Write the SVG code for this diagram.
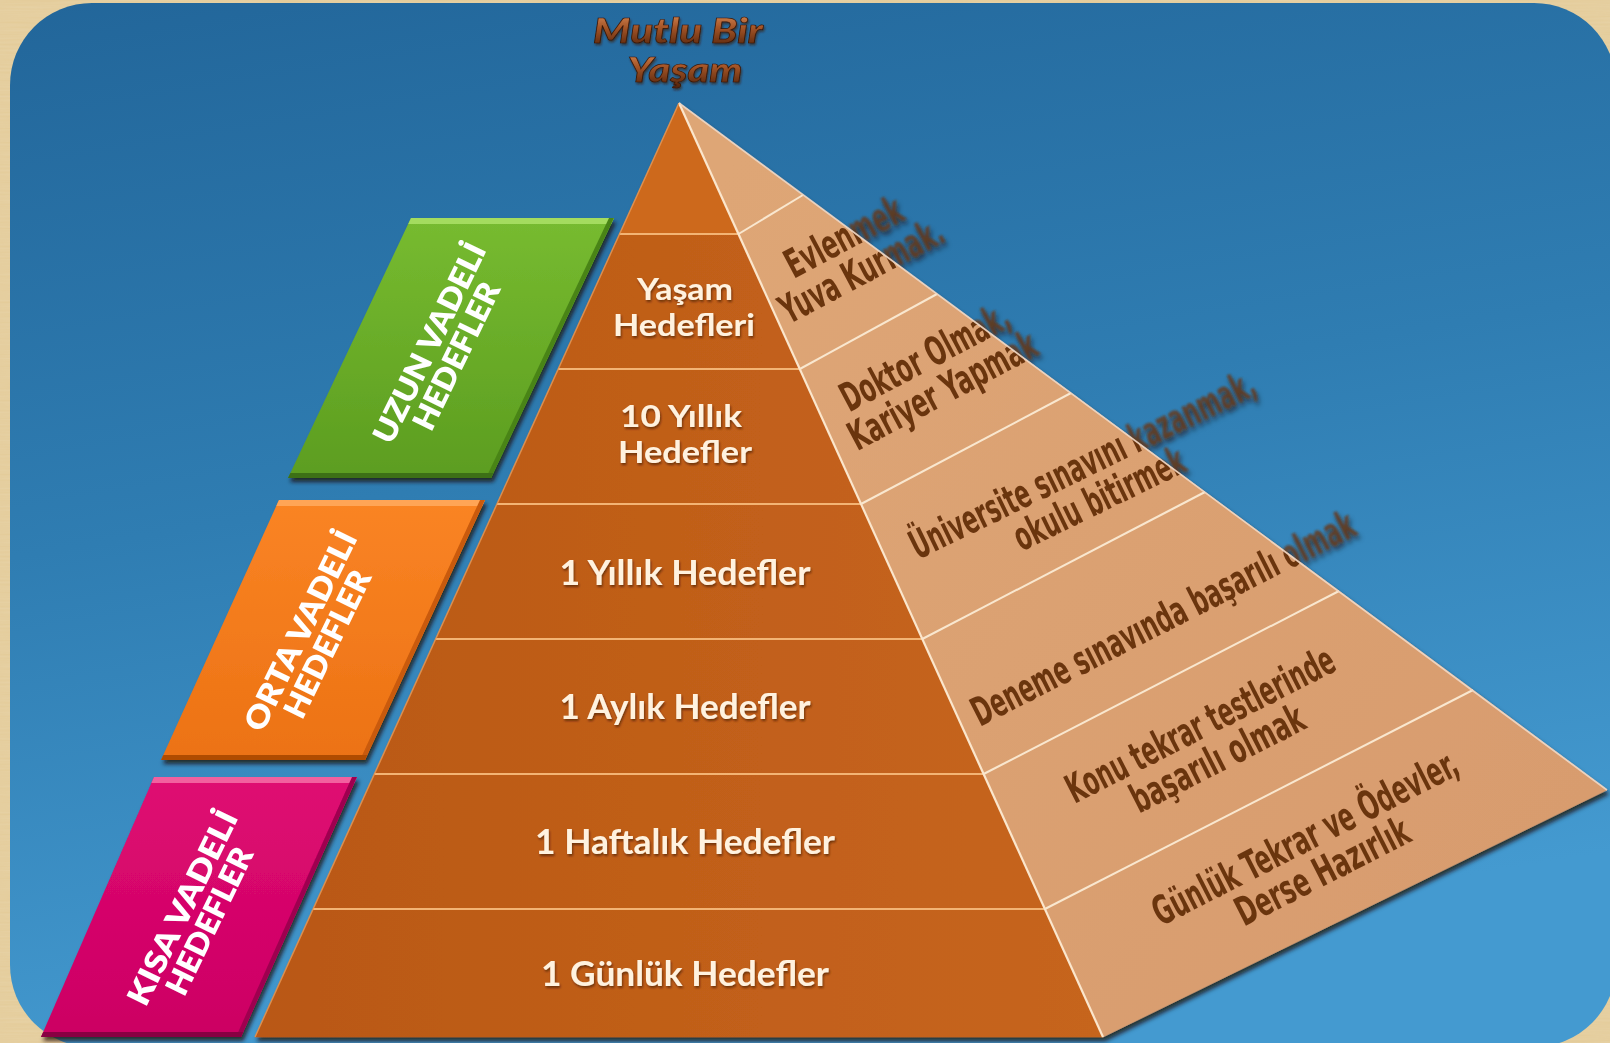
<svg xmlns="http://www.w3.org/2000/svg" xmlns:xlink="http://www.w3.org/1999/xlink" width="1610" height="1043" viewBox="0 0 1610 1043">
  <defs>
    <linearGradient id="sky" x1="0" y1="0" x2="0.25" y2="1">
      <stop offset="0" stop-color="#22669a"/>
      <stop offset="0.5" stop-color="#2f7db2"/>
      <stop offset="1" stop-color="#449ad0"/>
    </linearGradient>
    <linearGradient id="leftFace" gradientUnits="userSpaceOnUse" x1="255" y1="0" x2="1103" y2="0">
      <stop offset="0" stop-color="#b95814"/>
      <stop offset="0.6" stop-color="#c2601a"/>
      <stop offset="1" stop-color="#c6651c"/>
    </linearGradient>
    <linearGradient id="rightFace" gradientUnits="userSpaceOnUse" x1="700" y1="200" x2="1500" y2="900">
      <stop offset="0" stop-color="#dea676"/>
      <stop offset="1" stop-color="#d89c6e"/>
    </linearGradient>
    <linearGradient id="titleInk" x1="0" y1="0" x2="0" y2="1">
      <stop offset="0" stop-color="#e49a66"/>
      <stop offset="0.45" stop-color="#a65628"/>
      <stop offset="1" stop-color="#4e200a"/>
    </linearGradient>
    <linearGradient id="greenFill" x1="0" y1="0" x2="0" y2="1">
      <stop offset="0" stop-color="#77bb30"/>
      <stop offset="1" stop-color="#5c9d20"/>
    </linearGradient>
    <linearGradient id="orangeFill" x1="0" y1="0" x2="0" y2="1">
      <stop offset="0" stop-color="#fa8424"/>
      <stop offset="1" stop-color="#ec7214"/>
    </linearGradient>
    <linearGradient id="pinkFill" x1="0" y1="0" x2="0" y2="1">
      <stop offset="0" stop-color="#df0b72"/>
      <stop offset="1" stop-color="#cc0063"/>
    </linearGradient>

    <!-- parchment grain for the outer frame -->
    <filter id="grain" x="0" y="0" width="100%" height="100%">
      <feTurbulence type="fractalNoise" baseFrequency="0.015 0.5" numOctaves="2" seed="4" result="n"/>
      <feColorMatrix in="n" type="matrix" values="0 0 0 0 0.83  0 0 0 0 0.70  0 0 0 0 0.47  0 0 0 0.55 0"/>
      <feComposite in2="SourceGraphic" operator="in"/>
    </filter>
    <filter id="dropShadow" x="-10%" y="-10%" width="125%" height="125%">
      <feGaussianBlur in="SourceAlpha" stdDeviation="2.2"/>
      <feOffset dx="2" dy="4" result="b"/>
      <feFlood flood-color="#1c0c02" flood-opacity="0.75"/>
      <feComposite in2="b" operator="in"/>
      <feMerge><feMergeNode/><feMergeNode in="SourceGraphic"/></feMerge>
    </filter>
    <filter id="textShadow" x="-10%" y="-30%" width="120%" height="160%">
      <feGaussianBlur in="SourceAlpha" stdDeviation="0.9"/>
      <feOffset dx="1" dy="1.5" result="b"/>
      <feFlood flood-color="#3a1600" flood-opacity="0.6"/>
      <feComposite in2="b" operator="in"/>
      <feMerge><feMergeNode/><feMergeNode in="SourceGraphic"/></feMerge>
    </filter>
    <filter id="ghost" x="-20%" y="-50%" width="140%" height="200%">
      <feGaussianBlur stdDeviation="1.3"/>
    </filter>

    <clipPath id="rightFaceClip">
      <polygon points="679,103 1607,790 1103,1037"/>
    </clipPath>
    <clipPath id="outsideClip">
      <path clip-rule="evenodd" d="M0 0H1610V1043H0Z M679 103L1607 790L1103 1037Z"/>
    </clipPath>

    <style>
      .band { fill: url(#leftFace); stroke: url(#leftFace); stroke-width: 0.6; }
      .seg { fill: url(#rightFace); stroke: url(#rightFace); stroke-width: 0.6; }
      .ltext { font-family: Lato, "Open Sans", "DejaVu Sans", sans-serif; font-weight: 700; font-size: 34px;
               fill: #fff2df; text-anchor: middle; filter: url(#textShadow); }
      .ltext.two { font-size: 31px; }
      .rtext { font-family: "Liberation Sans Narrow", "DejaVu Sans Condensed", "Liberation Sans", sans-serif;
               font-weight: 700; font-size: 40px; fill: #6b3511; text-anchor: middle; }
      .btext { font-family: Lato, "Open Sans", "DejaVu Sans", sans-serif; font-weight: 800; font-size: 31px;
               fill: #ffffff; text-anchor: middle; }
      .title { font-family: Lato, "Open Sans", "DejaVu Sans", sans-serif; font-weight: 900; font-style: italic;
               font-size: 35px; fill: url(#titleInk); stroke: #3a1706; stroke-width: 0.7; text-anchor: middle;
               filter: url(#textShadow); }
      .hline { stroke: #f3b474; stroke-width: 2; }
      .rline { stroke: #f9e7cf; stroke-width: 2; }
    </style>
  </defs>

  <!-- frame and backdrop -->
  <rect x="0" y="0" width="1610" height="1043" fill="#e3ca96"/>
  <rect x="0" y="0" width="1610" height="1043" fill="#e3ca96" filter="url(#grain)"/>
  <rect x="10" y="3" width="1606" height="1044" rx="82" ry="82" fill="url(#sky)"/>

  <!-- title -->
  <g id="title">
    <text class="title" x="678" y="43" textLength="170" lengthAdjust="spacingAndGlyphs">Mutlu Bir</text>
    <text class="title" x="685" y="82" textLength="115" lengthAdjust="spacingAndGlyphs">Yaşam</text>
  </g>

  <!-- term banners -->
  <g id="banner-long" filter="url(#dropShadow)">
    <polygon points="411,218 614,218 491,478 288,478" fill="url(#greenFill)"/>
    <polygon points="411,218 614,218 611.2,224 408.2,224" fill="#a4dc5e"/>
    <polygon points="614,218 491,478 486,478 609,218" fill="#4a8418"/>
    <polygon points="290.4,473 493.4,473 491,478 288,478" fill="#3c7012"/>
    <g class="btext" transform="translate(442,349) rotate(-64)">
      <text x="0" y="-3" textLength="218" lengthAdjust="spacingAndGlyphs">UZUN VADELİ</text>
      <text x="0" y="27" textLength="160" lengthAdjust="spacingAndGlyphs">HEDEFLER</text>
    </g>
  </g>
  <g id="banner-mid" filter="url(#dropShadow)">
    <polygon points="279,500 485,500 365,760 161,760" fill="url(#orangeFill)"/>
    <polygon points="279,500 485,500 482.2,506 276.3,506" fill="#ffa556"/>
    <polygon points="485,500 365,760 360,760 480,500" fill="#c95a0a"/>
    <polygon points="163.3,755 367.3,755 365,760 161,760" fill="#b04c06"/>
    <g class="btext" transform="translate(313,637) rotate(-64)">
      <text x="0" y="-3" textLength="218" lengthAdjust="spacingAndGlyphs">ORTA VADELİ</text>
      <text x="0" y="27" textLength="160" lengthAdjust="spacingAndGlyphs">HEDEFLER</text>
    </g>
  </g>
  <g id="banner-short" filter="url(#dropShadow)">
    <polygon points="154,777 357,777 241,1037 41,1037" fill="url(#pinkFill)"/>
    <polygon points="154,777 357,777 354.3,783 151.4,783" fill="#f2609f"/>
    <polygon points="357,777 241,1037 236,1037 352,777" fill="#9e0050"/>
    <polygon points="43.2,1032 243.2,1032 241,1037 41,1037" fill="#880042"/>
    <g class="btext" transform="translate(195,914) rotate(-64)">
      <text x="0" y="-3" textLength="212" lengthAdjust="spacingAndGlyphs">KISA VADELİ</text>
      <text x="0" y="27" textLength="160" lengthAdjust="spacingAndGlyphs">HEDEFLER</text>
    </g>
  </g>

  <!-- pyramid: left face bands and right face segments -->
  <g id="pyramid" filter="url(#dropShadow)">
    <g id="band-peak">
      <polygon class="band" points="679,103 619.5,234 738.5,234" style="fill:#cd691f;stroke:#cd691f"/>
    </g>
    <g id="band-yasam">
      <polygon class="band" points="619.5,234 738.5,234 799.8,369 558.2,369"/>
      <text class="ltext two" x="685" y="300" textLength="96" lengthAdjust="spacingAndGlyphs">Yaşam</text>
      <text class="ltext two" x="684" y="336" textLength="142" lengthAdjust="spacingAndGlyphs">Hedefleri</text>
    </g>
    <g id="band-10-yil">
      <polygon class="band" points="558.2,369 799.8,369 861,504 497,504"/>
      <text class="ltext two" x="681" y="427" textLength="122" lengthAdjust="spacingAndGlyphs">10 Yıllık</text>
      <text class="ltext two" x="685" y="463" textLength="134" lengthAdjust="spacingAndGlyphs">Hedefler</text>
    </g>
    <g id="band-1-yil">
      <polygon class="band" points="497,504 861,504 922.3,639 435.7,639"/>
      <text class="ltext" x="685" y="585" textLength="251" lengthAdjust="spacingAndGlyphs">1 Yıllık Hedefler</text>
    </g>
    <g id="band-1-ay">
      <polygon class="band" points="435.7,639 922.3,639 983.6,774 374.4,774"/>
      <text class="ltext" x="685" y="719" textLength="251" lengthAdjust="spacingAndGlyphs">1 Aylık Hedefler</text>
    </g>
    <g id="band-1-hafta">
      <polygon class="band" points="374.4,774 983.6,774 1044.9,909 313.1,909"/>
      <text class="ltext" x="685" y="854" textLength="300" lengthAdjust="spacingAndGlyphs">1 Haftalık Hedefler</text>
    </g>
    <g id="band-1-gun">
      <polygon class="band" points="313.1,909 1044.9,909 1103,1037 255,1037"/>
      <text class="ltext" x="685" y="986" textLength="288" lengthAdjust="spacingAndGlyphs">1 Günlük Hedefler</text>
    </g>

    <g id="seg-peak">
      <polygon class="seg" points="679,103 738.5,234 803,195"/>
    </g>
    <g id="seg-evlenmek">
      <polygon class="seg" points="738.5,234 803,195 937,294 799.8,369"/>
      <g clip-path="url(#rightFaceClip)">
        <g id="txt-evlenmek" class="rtext" transform="translate(854,256) rotate(-28)">
          <text x="0" y="-8" textLength="128" lengthAdjust="spacingAndGlyphs">Evlenmek</text>
          <text x="0" y="30" textLength="180" lengthAdjust="spacingAndGlyphs">Yuva Kurmak.</text>
        </g>
      </g>
      <use xlink:href="#txt-evlenmek" clip-path="url(#outsideClip)" filter="url(#ghost)" opacity="0.75"/>
    </g>
    <g id="seg-doktor">
      <polygon class="seg" points="799.8,369 937,294 1071,393 861,504"/>
      <g clip-path="url(#rightFaceClip)">
        <g id="txt-doktor" class="rtext" transform="translate(935,376) rotate(-28)">
          <text x="0" y="-8" textLength="186" lengthAdjust="spacingAndGlyphs">Doktor Olmak,</text>
          <text x="0" y="30" textLength="208" lengthAdjust="spacingAndGlyphs">Kariyer Yapmak</text>
        </g>
      </g>
      <use xlink:href="#txt-doktor" clip-path="url(#outsideClip)" filter="url(#ghost)" opacity="0.75"/>
    </g>
    <g id="seg-universite">
      <polygon class="seg" points="861,504 1071,393 1205,492 922.3,639"/>
      <g clip-path="url(#rightFaceClip)">
        <g id="txt-universite" class="rtext" transform="translate(1092,484) rotate(-26)">
          <text x="0" y="-8" textLength="380" lengthAdjust="spacingAndGlyphs">Üniversite sınavını kazanmak,</text>
          <text x="0" y="30" textLength="186" lengthAdjust="spacingAndGlyphs">okulu bitirmek</text>
        </g>
      </g>
      <use xlink:href="#txt-universite" clip-path="url(#outsideClip)" filter="url(#ghost)" opacity="0.75"/>
    </g>
    <g id="seg-deneme">
      <polygon class="seg" points="922.3,639 1205,492 1339,591 983.6,774"/>
      <g clip-path="url(#rightFaceClip)">
        <g id="txt-deneme" class="rtext" transform="translate(1163,618) rotate(-27)">
          <text x="0" y="14" textLength="425" lengthAdjust="spacingAndGlyphs">Deneme sınavında başarılı olmak</text>
        </g>
      </g>
      <use xlink:href="#txt-deneme" clip-path="url(#outsideClip)" filter="url(#ghost)" opacity="0.75"/>
    </g>
    <g id="seg-konu">
      <polygon class="seg" points="983.6,774 1339,591 1473,690 1044.9,909"/>
      <g class="rtext" transform="translate(1210,744) rotate(-27)">
        <text x="0" y="-8" textLength="296" lengthAdjust="spacingAndGlyphs">Konu tekrar testlerinde</text>
        <text x="0" y="30" textLength="190" lengthAdjust="spacingAndGlyphs">başarılı olmak</text>
      </g>
    </g>
    <g id="seg-gunluk">
      <polygon class="seg" points="1044.9,909 1473,690 1607,790 1103,1037"/>
      <g class="rtext" transform="translate(1315,857) rotate(-27)">
        <text x="0" y="-8" textLength="338" lengthAdjust="spacingAndGlyphs">Günlük Tekrar ve Ödevler,</text>
        <text x="0" y="30" textLength="190" lengthAdjust="spacingAndGlyphs">Derse Hazırlık</text>
      </g>
    </g>
  </g>

  <!-- band separators and face edges -->
  <g id="band-lines" fill="none">
    <line class="hline" x1="619.5" y1="234" x2="738.5" y2="234"/>
    <line class="hline" x1="558.2" y1="369" x2="799.8" y2="369"/>
    <line class="hline" x1="497" y1="504" x2="861" y2="504"/>
    <line class="hline" x1="435.7" y1="639" x2="922.3" y2="639"/>
    <line class="hline" x1="374.4" y1="774" x2="983.6" y2="774"/>
    <line class="hline" x1="313.1" y1="909" x2="1044.9" y2="909"/>
    <line class="rline" x1="738.5" y1="234" x2="803" y2="195"/>
    <line class="rline" x1="799.8" y1="369" x2="937" y2="294"/>
    <line class="rline" x1="861" y1="504" x2="1071" y2="393"/>
    <line class="rline" x1="922.3" y1="639" x2="1205" y2="492"/>
    <line class="rline" x1="983.6" y1="774" x2="1339" y2="591"/>
    <line class="rline" x1="1044.9" y1="909" x2="1473" y2="690"/>
    <line x1="679" y1="103" x2="1103" y2="1037" stroke="#fbe6cc" stroke-width="2.2"/>
    <line x1="679" y1="103" x2="255" y2="1037" stroke="#e99a58" stroke-width="1.5" opacity="0.8"/>
    <line x1="679" y1="103" x2="1607" y2="790" stroke="#efd8c6" stroke-width="1.8" opacity="0.9"/>
  </g>
</svg>
